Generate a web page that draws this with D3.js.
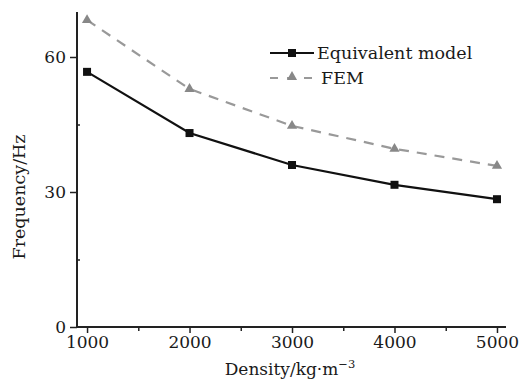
<!DOCTYPE html>
<html>
<head>
<meta charset="utf-8">
<script src="https://cdn.jsdelivr.net/npm/d3@7"></script>
<style>
  body { margin: 0; background: #fff; }
  text { font-family: "DejaVu Serif", "Liberation Serif", serif; fill: #1a1a1a; }
</style>
</head>
<body>
<svg width="521" height="381"></svg>
<script>
var density = [1000, 2000, 3000, 4000, 5000];
var equivalent = [56.7, 43.1, 36.0, 31.6, 28.4];
var fem = [68.2, 52.9, 44.7, 39.6, 35.8];
var yTicks = [0, 30, 60];
var yMinor = [15, 45];
var xMinor = [1500, 2500, 3500, 4500];
var seriesNames = ["Equivalent model", "FEM"];

var svg = d3.select("svg");
var x0 = 77, x1 = 506, y0 = 327, y1 = 12;

var scX = d3.scaleLinear().domain([902, 5088]).range([x0, x1]);
var scY = d3.scaleLinear().domain([0, 70]).range([y0, y1]);

// axes
var xAxis = svg.append("g").attr("transform", "translate(0," + y0 + ")")
    .call(d3.axisBottom(scX).tickValues(density).tickFormat(d3.format("d")).tickSize(6).tickPadding(3));
svg.append("g").attr("transform", "translate(0," + y0 + ")")
    .call(d3.axisBottom(scX).tickValues(xMinor).tickFormat("").tickSize(4).tickSizeOuter(0))
    .select(".domain").remove();
var yAxis = svg.append("g").attr("transform", "translate(" + x0 + ",0)")
    .call(d3.axisLeft(scY).tickValues(yTicks).tickSize(7).tickPadding(4));
svg.append("g").attr("transform", "translate(" + x0 + ",0)")
    .call(d3.axisRight(scY).tickValues(yMinor).tickFormat("").tickSize(3).tickSizeOuter(0))
    .select(".domain").remove();

svg.selectAll(".domain").attr("stroke", "#222").attr("stroke-width", 2);
svg.selectAll(".tick line").attr("stroke", "#222").attr("stroke-width", 1.5);
svg.selectAll(".tick text").style("font-size", "17px").attr("fill", "#1a1a1a");
// straight domains, no outer ticks
xAxis.select(".domain").attr("d", "M" + x0 + ",0H" + x1);
yAxis.select(".domain").attr("d", "M0," + y1 + "V" + y0);

// labels
svg.append("text").attr("x", 290).attr("y", 375).attr("text-anchor", "middle")
    .style("font-size", "17px")
    .html('Density/kg·m<tspan dy="-7" font-size="11.5px">−3</tspan>');
svg.append("text").attr("transform", "translate(25,197) rotate(-90)")
    .attr("text-anchor", "middle").style("font-size", "17.5px").text("Frequency/Hz");

var line = d3.line().x((d, i) => scX(density[i])).y(d => scY(d));

// FEM
svg.append("path").attr("d", line(fem)).attr("fill", "none")
    .attr("stroke", "#999").attr("stroke-width", 2.2).attr("stroke-dasharray", "10,8");
var tri = d3.symbol().type(d3.symbolTriangle).size(45);
svg.selectAll(".tri").data(fem).enter().append("path")
    .attr("d", tri).attr("fill", "#888")
    .attr("transform", (d, i) => "translate(" + scX(density[i]) + "," + scY(d) + ")");

// Equivalent model
svg.append("path").attr("d", line(equivalent)).attr("fill", "none")
    .attr("stroke", "#111").attr("stroke-width", 2.2);
svg.selectAll(".sq").data(equivalent).enter().append("rect")
    .attr("x", (d, i) => scX(density[i]) - 4).attr("y", d => scY(d) - 4)
    .attr("width", 8).attr("height", 8).attr("fill", "#111");

// legend
var lg = svg.append("g");
lg.append("line").attr("x1", 270).attr("x2", 314).attr("y1", 53).attr("y2", 53)
    .attr("stroke", "#111").attr("stroke-width", 2.2);
lg.append("rect").attr("x", 288).attr("y", 49).attr("width", 8).attr("height", 8).attr("fill", "#111");
lg.append("text").attr("x", 317).attr("y", 59).style("font-size", "17.5px").text(seriesNames[0]);
lg.append("line").attr("x1", 270).attr("x2", 318).attr("y1", 78).attr("y2", 78)
    .attr("stroke", "#999").attr("stroke-width", 2.2).attr("stroke-dasharray", "8,9");
lg.append("path").attr("d", tri).attr("fill", "#888").attr("transform", "translate(292,77)");
lg.append("text").attr("x", 321).attr("y", 84).style("font-size", "17.5px").text(seriesNames[1]);
</script>
</body>
</html>
